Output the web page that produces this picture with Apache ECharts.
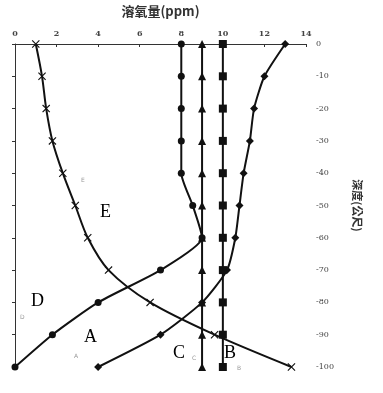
<!DOCTYPE html>
<html><head><meta charset="utf-8">
<script src="https://cdn.jsdelivr.net/npm/echarts@6/dist/echarts.min.js"></script>
<style>html,body{margin:0;padding:0;background:#fff}#c{width:383px;height:393px}</style>
</head><body><div id="c"></div>
<script>
var depths = [0,-10,-20,-30,-40,-50,-60,-70,-80,-90,-100];
var seriesA = [13,12,11.5,11.3,11,10.8,10.6,10.2,9,7,4];
var seriesB = [10,10,10,10,10,10,10,10,10,10,10];
var seriesC = [9,9,9,9,9,9,9,9,9,9,9];
var seriesD = [8,8,8,8,8,8.55,9,7,4,1.8,0];
var seriesE = [1,1.3,1.5,1.8,2.3,2.9,3.5,4.5,6.5,9.6,13.3];
var xTicks = [0,2,4,6,8,10,12,14];

function pairs(v){ return v.map(function(x,i){ return [x, depths[i]]; }); }
var crossPath = 'path://M0,1 L1,0 L5,4 L9,0 L10,1 L6,5 L10,9 L9,10 L5,6 L1,10 L0,9 L4,5 Z';
function mk(name, vals, symbol, size, smooth){
  return {name:name, type:'line', data:pairs(vals), symbol:symbol, symbolSize:size,
    smooth:smooth, lineStyle:{color:'#111', width:2}, itemStyle:{color:'#111'}, z:3};
}
var chart = echarts.init(document.getElementById('c'), null, {renderer:'canvas'});
chart.setOption({
  animation:false,
  backgroundColor:'#fff',
  grid:{left:15, right:77, top:35, bottom:26},
  xAxis:{type:'value', position:'top', min:0, max:14, interval:2,
    name:'溶氧量(ppm)', nameLocation:'middle', nameGap:26,
    nameTextStyle:{fontFamily:'Noto Sans CJK TC', fontSize:13, fontWeight:'bold', color:'#333'},
    axisLine:{show:true, lineStyle:{color:'#333', width:1}},
    axisTick:{show:true, inside:true, length:3, lineStyle:{color:'#333'}},
    axisLabel:{margin:6, fontSize:8, fontWeight:'bold', color:'#444', fontFamily:'DejaVu Serif',
      formatter:function(v){ return xTicks.indexOf(v)>=0 ? String(v) : ''; }},
    splitLine:{show:false}},
  yAxis:{type:'value', position:'right', min:-100, max:0, interval:10,
    name:'深度(公尺)', nameLocation:'middle', nameGap:46, nameRotate:-90,
    nameTextStyle:{fontFamily:'Noto Sans CJK TC', fontSize:11, fontWeight:'bold', color:'#333'},
    axisLine:{show:true, lineStyle:{color:'#333', width:1}},
    axisTick:{show:true, inside:true, length:3, lineStyle:{color:'#333'}},
    axisLabel:{margin:10, fontSize:8, color:'#444', fontFamily:'DejaVu Serif'},
    splitLine:{show:false}},
  series:[
    mk('A', seriesA, 'diamond', 8, 0.2),
    mk('B', seriesB, 'rect', 8, false),
    mk('C', seriesC, 'triangle', 8, false),
    mk('D', seriesD, 'circle', 7, 0.2),
    mk('E', seriesE, crossPath, 8, 0.3)
  ],
  graphic:[
    {type:'text', left:100, top:203, style:{text:'E', font:'18px "Liberation Serif"', fill:'#000'}},
    {type:'text', left:31, top:292, style:{text:'D', font:'18px "Liberation Serif"', fill:'#000'}},
    {type:'text', left:84, top:328, style:{text:'A', font:'18px "Liberation Serif"', fill:'#000'}},
    {type:'text', left:173, top:344, style:{text:'C', font:'18px "Liberation Serif"', fill:'#000'}},
    {type:'text', left:224, top:344, style:{text:'B', font:'18px "Liberation Serif"', fill:'#000'}},
    {type:'text', left:81, top:177, style:{text:'E', font:'6px "DejaVu Sans"', fill:'#999'}},
    {type:'text', left:20, top:314, style:{text:'D', font:'6px "DejaVu Sans"', fill:'#999'}},
    {type:'text', left:74, top:353, style:{text:'A', font:'6px "DejaVu Sans"', fill:'#999'}},
    {type:'text', left:192, top:355, style:{text:'C', font:'6px "DejaVu Sans"', fill:'#999'}},
    {type:'text', left:237, top:365, style:{text:'B', font:'6px "DejaVu Sans"', fill:'#999'}}
  ]
});
</script></body></html>
